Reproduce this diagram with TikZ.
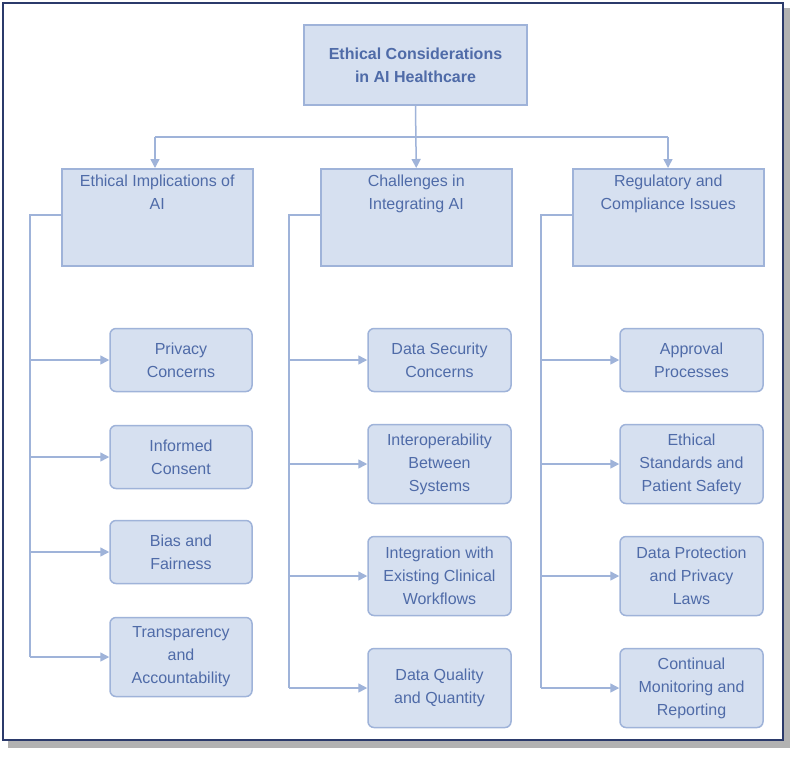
\documentclass[tikz,border=0pt]{standalone}
\usepackage{fontspec}
\setmainfont{Liberation Sans}
\usetikzlibrary{arrows.meta}
\definecolor{bfill}{HTML}{D6E0F0}
\definecolor{bline}{HTML}{9FB3D9}
\definecolor{btext}{HTML}{4F6BA8}
\definecolor{frame}{HTML}{2B3A6B}
\begin{document}
\begin{tikzpicture}[x=1pt,y=-1pt,
  box/.style={draw=bline,fill=bfill,line width=1.5pt,text=btext,align=center,font=\fontsize{16}{23}\selectfont,inner sep=0pt},
  leaf/.style={box,rounded corners=6pt},
  conn/.style={draw=bline,line width=1.5pt},
  arr/.style={conn,-{Triangle[length=9pt,width=9pt]}}]
\useasboundingbox (0,0) rectangle (799,756);
\fill[gray!60] (8,8) rectangle (790,748);
\draw[frame,line width=2pt,fill=white] (3,3) rectangle (783,740);
\node[box,minimum width=223,minimum height=80,font=\bfseries\fontsize{16}{23}\selectfont] (top) at (415.5,65) {Ethical Considerations\\in AI Healthcare};
\node[box,minimum width=191,minimum height=97,anchor=north west] (c1) at (61,168) {Ethical Implications of\\AI\\[28pt]};
\node[box,minimum width=191,minimum height=97,anchor=north west] (c2) at (320,168) {Challenges in\\Integrating AI\\[28pt]};
\node[box,minimum width=191,minimum height=97,anchor=north west] (c3) at (572,168) {Regulatory and\\Compliance Issues\\[28pt]};
\coordinate (j) at (415.5,137);
\draw[conn] (top.south) -- (j);
\draw[arr] (top.south) -- (c2.north);
\draw[conn] (155,137) -- (668,137);
\draw[arr] (155,137) -- (c1.north -| 155,0);
\draw[arr] (668,137) -- (c3.north -| 668,0);
% left
\node[leaf,minimum width=142,minimum height=63] (a1) at (181,360) {Privacy\\Concerns};
\node[leaf,minimum width=142,minimum height=63] (a2) at (181,457) {Informed\\Consent};
\node[leaf,minimum width=142,minimum height=63] (a3) at (181,552) {Bias and\\Fairness};
\node[leaf,minimum width=142,minimum height=79] (a4) at (181,657) {Transparency\\and\\Accountability};
\node[leaf,minimum width=143,minimum height=63] (b1) at (439.5,360) {Data Security\\Concerns};
\node[leaf,minimum width=143,minimum height=79] (b2) at (439.5,464) {Interoperability\\Between\\Systems};
\node[leaf,minimum width=143,minimum height=79] (b3) at (439.5,576) {Integration with\\Existing Clinical\\Workflows};
\node[leaf,minimum width=143,minimum height=79] (b4) at (439.5,688) {Data Quality\\and Quantity};
\node[leaf,minimum width=143,minimum height=63] (d1) at (691.5,360) {Approval\\Processes};
\node[leaf,minimum width=143,minimum height=79] (d2) at (691.5,464) {Ethical\\Standards and\\Patient Safety};
\node[leaf,minimum width=143,minimum height=79] (d3) at (691.5,576) {Data Protection\\and Privacy\\Laws};
\node[leaf,minimum width=143,minimum height=79] (d4) at (691.5,688) {Continual\\Monitoring and\\Reporting};
\draw[conn] (c1.west |- 0,215) -- (30,215) -- (30,657);
\foreach \n in {a1,a2,a3,a4} \draw[arr] (30,0 |- \n.west) -- (\n.west);
\draw[conn] (c2.west |- 0,215) -- (289,215) -- (289,688);
\foreach \n in {b1,b2,b3,b4} \draw[arr] (289,0 |- \n.west) -- (\n.west);
\draw[conn] (c3.west |- 0,215) -- (541,215) -- (541,688);
\foreach \n in {d1,d2,d3,d4} \draw[arr] (541,0 |- \n.west) -- (\n.west);
\end{tikzpicture}
\end{document}
